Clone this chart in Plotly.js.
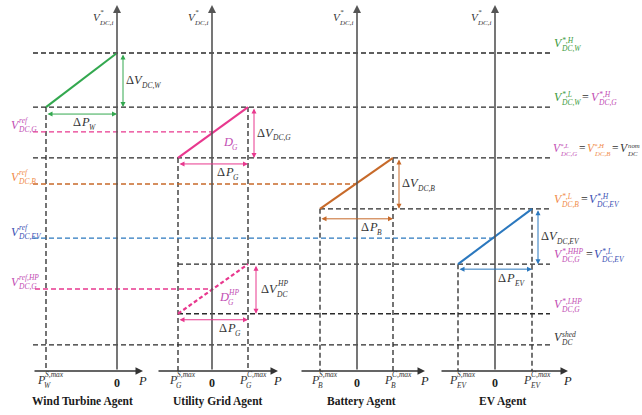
<!DOCTYPE html>
<html><head><meta charset="utf-8">
<script src="https://cdn.plot.ly/plotly-3.0.1.min.js"></script>
<style>html,body{margin:0;padding:0;background:#fff}</style>
</head><body><div id="chart" style="width:642px;height:415px"></div>
<script>
// ---------------- data (schematic units) ----------------
const agentNames  = ['Wind Turbine Agent', 'Utility Grid Agent', 'Battery Agent', 'EV Agent'];
const agentSub    = ['W', 'G', 'B', 'EV'];
const agentOrigin = [117, 212, 357, 495];   // P = 0 of each agent on the shared P scale
const pSmax = [-71, -34, -37, -37];         // max supply power (left end of droop)
const pCmax = [0, 36, 36, 37];              // max consumption power (right end of droop)
const vHigh = [100, 83, 67, 51];            // V*,H of each agent
const vLow  = [83, 67, 51, 33.6];           // V*,L of each agent
const vRefGBE = [75.2, 58.8, 41.8];         // V ref of grid, battery, EV
const gridHP = [33.6, 25.8, 18];            // grid high-price mode: V*,HHP, Vref,HP, V*,LHP
const vShed = 8.2;                          // load shedding level

// ---------------- layout constants ----------------
const W = 642, H = 415, Y0PX = 371, PXV = 3.18;
const yOf = v => Y0PX - v * PXV;            // pixel row of a level (text placement only)
const LINE_L = 33, LINE_R = 550;
const FONT = '"Liberation Serif", "Times New Roman", serif';
const COL = {green:'#33a84f', pink:'#e8388e', orange:'#c76a2a', blue:'#2b78be', black:'#2a2a2a', axis:'#555'};
const LAB = {green:'#3d9a3c', pink:'#c24db3', orange:'#f08a48', blue:'#3b4fb3', gray:'#333'};

const traces = [];
function seg(list, color, width, dash) {
  const x = [], y = [];
  list.forEach(s => { x.push(s[0], s[2], null); y.push(s[1], s[3], null); });
  traces.push({type:'scatter', mode:'lines', x, y, hoverinfo:'skip',
    line:{color, width, dash: dash || 'solid'}});
}

// black dashed horizontal levels
const hLevels = [vHigh[0], vHigh[1], vHigh[2], vHigh[3], gridHP[0], gridHP[2], vShed];
const hStart  = [LINE_L, LINE_L, LINE_L, agentOrigin[2] + pSmax[2],
                 agentOrigin[1] + pSmax[1], agentOrigin[1] + pSmax[1], LINE_L];
const blk = hLevels.map((v, i) => [hStart[i], v, LINE_R, v]);
// black dashed verticals (limits of each agent)
agentOrigin.forEach((o, i) => {
  blk.push([o + pSmax[i], vLow[i], o + pSmax[i], 0]);
  if (pCmax[i] !== 0) blk.push([o + pCmax[i], vHigh[i], o + pCmax[i], 0]);
});
seg(blk, COL.black, 1.3, '5px,3px');

// reference level dashed lines
seg([[LINE_L, vRefGBE[0], agentOrigin[1], vRefGBE[0]], [LINE_L + 2, gridHP[1], agentOrigin[1], gridHP[1]]], COL.pink, 1.4, '5px,3px');
seg([[LINE_L, vRefGBE[1], agentOrigin[2], vRefGBE[1]]], COL.orange, 1.4, '5px,3px');
seg([[LINE_L, vRefGBE[2], agentOrigin[3], vRefGBE[2]]], COL.blue, 1.4, '5px,3px');

// droop lines
const dcol = [COL.green, COL.pink, COL.orange, COL.blue];
agentOrigin.forEach((o, i) => seg([[o + pSmax[i], vLow[i], o + pCmax[i], vHigh[i]]], dcol[i], 2.1));
seg([[agentOrigin[1] + pSmax[1], gridHP[2], agentOrigin[1] + pCmax[1], gridHP[0]]], COL.pink, 2.2, '4px,2.5px');

// ---------------- annotations ----------------
const ann = [];
function arrow(x0, y0, x1, y1, color, width, both) {
  ann.push({xref:'x', yref:'y', axref:'x', ayref:'y', x:x1, y:y1, ax:x0, ay:y0, text:'',
    showarrow:true, arrowhead:2, arrowsize:1, arrowwidth:width, arrowcolor:color,
    arrowside: both ? 'end+start' : 'end', startarrowhead:2, startarrowsize:1, standoff:0, startstandoff:0});
}
// axes
const axL = [-84, -55, -57, -55], axR = [26, 66, 68, 73];
agentOrigin.forEach((o, i) => {
  arrow(o, 0, o, 115.1, COL.axis, 1.6, false);
  arrow(o + axL[i], 0, o + axR[i], 0, '#333', 1.5, false);
});
// delta arrows
const pGap = [7, 6, 10, 5];
agentOrigin.forEach((o, i) => {
  const xr = o + pCmax[i] + 6;
  arrow(xr, vHigh[i], xr, vLow[i], dcol[i], 1, true);
  const yv = vLow[i] - pGap[i] / PXV;
  arrow(o + pSmax[i], yv, o + pCmax[i], yv, dcol[i], 1, true);
});
arrow(agentOrigin[1] + pCmax[1] + 8, gridHP[0], agentOrigin[1] + pCmax[1] + 8, gridHP[2], COL.pink, 1, true);
arrow(agentOrigin[1] + pSmax[1], gridHP[2] - 6 / PXV, agentOrigin[1] + pCmax[1], gridHP[2] - 6 / PXV, COL.pink, 1, true);

// text helpers
const ctx = document.createElement('canvas').getContext('2d');
function mw(t, size, italic, bold) {
  ctx.font = (italic ? 'italic ' : '') + (bold ? 'bold ' : '') + size + 'px "Liberation Serif"';
  return ctx.measureText(t.replace(/<[^>]+>/g, '')).width;
}
function T(x, y, html, color, size, opt) {
  ann.push(Object.assign({xref:'paper', yref:'paper', x:x / W, y:1 - y / H, text:html,
    showarrow:false, xanchor:'left', yanchor:'middle', borderpad:0,
    font:{family:FONT, size, color}}, opt || {}));
}
function L(x, y, parts, size, ss, supDy, subDy, subDx) {
  size = size || 12; ss = ss || 7.5;
  supDy = supDy === undefined ? -0.22 : supDy; subDy = subDy === undefined ? 0.44 : subDy;
  subDx = subDx === undefined ? -0.5 : subDx;
  let cx = x;
  for (const p of parts) {
    const c = p.c || LAB.gray;
    if (p.eq) { cx += 2; T(cx, y, '=', c, size); cx += mw('=', size) + 2; continue; }
    if (p.u) { T(cx, y, p.u, c, size); cx += mw(p.u, size); }
    if (p.b) { T(cx, y, '<i>' + p.b + '</i>', c, size); cx += mw(p.b, size, true); }
    let w = 0;
    if (p.sup) { T(cx + 0.3, y + supDy * size, '<i>' + p.sup + '</i>', c, ss); w = Math.max(w, mw(p.sup, ss, true) + 0.3); }
    if (p.sub) { T(cx + subDx, y + subDy * size, '<i>' + p.sub + '</i>', c, ss); w = Math.max(w, mw(p.sub, ss, true) + subDx); }
    if (w) cx += w + 1;
  }
}

// axis top labels
agentOrigin.forEach(o => L(o - 25, 17, [{b:'V', sup:'*', sub:'DC,i'}], 11, 7, -0.45, 0.5));

// right-hand level labels
const RX = 553;
L(RX, yOf(vHigh[0]) - 10, [{b:'V', c:LAB.green, sup:'*,H', sub:'DC,W'}]);
L(RX, yOf(vHigh[1]) - 10, [{b:'V', c:LAB.green, sup:'*,L', sub:'DC,W'}, {eq:1}, {b:'V', c:LAB.pink, sup:'*,H', sub:'DC,G'}]);
L(RX - 1, yOf(vHigh[2]) - 10, [{b:'V', c:LAB.pink, sup:'*,L', sub:'DC,G'}, {eq:1}, {b:'V', c:LAB.orange, sup:'*,H', sub:'DC,B'}, {eq:1}, {b:'V', sup:'nom', sub:'DC'}], 11.5, 6.8);
L(RX, yOf(vHigh[3]) - 10, [{b:'V', c:LAB.orange, sup:'*,L', sub:'DC,B'}, {eq:1}, {b:'V', c:LAB.blue, sup:'*,H', sub:'DC,EV'}]);
L(RX, yOf(gridHP[0]) - 10, [{b:'V', c:LAB.pink, sup:'*,HHP', sub:'DC,G'}, {eq:1}, {b:'V', c:LAB.blue, sup:'*,L', sub:'DC,EV'}]);
L(RX, yOf(gridHP[2]) - 10, [{b:'V', c:LAB.pink, sup:'*,LHP', sub:'DC,G'}]);
L(RX, yOf(vShed) - 8, [{b:'V', sup:'shed', sub:'DC'}]);

// left reference labels
L(10, yOf(vRefGBE[0]) - 7, [{b:'V', c:LAB.pink, sup:'ref', sub:'DC,G'}], 12, 7.5, -0.36, 0.38);
L(10, yOf(vRefGBE[1]) - 7, [{b:'V', c:LAB.orange, sup:'ref', sub:'DC,B'}], 12, 7.5, -0.36, 0.38);
L(10, yOf(vRefGBE[2]) - 6, [{b:'V', c:LAB.blue, sup:'ref', sub:'DC,EV'}], 12, 7.5, -0.36, 0.38);
L(10, yOf(gridHP[1]) - 7, [{b:'V', c:LAB.pink, sup:'ref,HP', sub:'DC,G'}], 12, 7.5, -0.36, 0.38);

// delta labels
const dVsub = ['DC,W', 'DC,G', 'DC,B', 'DC,EV'];
const dPx = [72, 216, 360, 497], dPy = [122, 172, 227, 278];
agentOrigin.forEach((o, i) => {
  L(o + pCmax[i] + 8, yOf((vHigh[i] + vLow[i]) / 2), [{u:'Δ'}, {b:'V', sub:dVsub[i]}], 12.5, 7.5, -0.2, 0.42);
  L(dPx[i], dPy[i], [{u:'Δ'}, {b:'P', sub:agentSub[i]}], 12.5, 7.5, -0.2, 0.42, 0.8);
});
L(260, yOf((gridHP[0] + gridHP[2]) / 2), [{u:'Δ'}, {b:'V', sup:'HP', sub:'DC'}], 12.5, 7.5, -0.4, 0.42);
L(218, 328, [{u:'Δ'}, {b:'P', sub:'G'}], 12.5, 7.5, -0.2, 0.42, 0.8);
L(222, 142, [{b:'D', c:LAB.pink, sub:'G'}], 12.5, 7.5, -0.2, 0.42);
L(218, 297, [{b:'D', c:LAB.pink, sup:'HP', sub:'G'}], 12.5, 7.5, -0.4, 0.42);

// P-axis tick labels
agentOrigin.forEach((o, i) => {
  L(o + pSmax[i] - 10, 380, [{b:'P', sup:'S,max', sub:agentSub[i]}], 12, 7.5, -0.45, 0.42);
  if (pCmax[i] !== 0) L(o + pCmax[i] - 10, 380, [{b:'P', sup:'C,max', sub:agentSub[i]}], 12, 7.5, -0.45, 0.42);
  T(o, 382.5, '<b>0</b>', '#222', 12, {xanchor:'center'});
  T(o + axR[i] - 6, 381, '<i>P</i>', '#222', 12.5);
});

// agent titles
const titleX = [83, 218, 362, 503];
agentNames.forEach((n, i) => T(titleX[i], 401, '<b>' + n + '</b>', '#1a1a1a', 11.5, {xanchor:'center'}));

const layout = {
  width: W, height: H, margin:{l:0, r:0, t:0, b:0},
  paper_bgcolor:'#fff', plot_bgcolor:'#fff', showlegend:false, hovermode:false,
  xaxis:{range:[0, W], visible:false, fixedrange:true},
  yaxis:{range:[-(H - Y0PX) / PXV, Y0PX / PXV], visible:false, fixedrange:true},
  annotations: ann
};
Plotly.newPlot('chart', traces, layout, {staticPlot:true, displayModeBar:false});
</script></body></html>
